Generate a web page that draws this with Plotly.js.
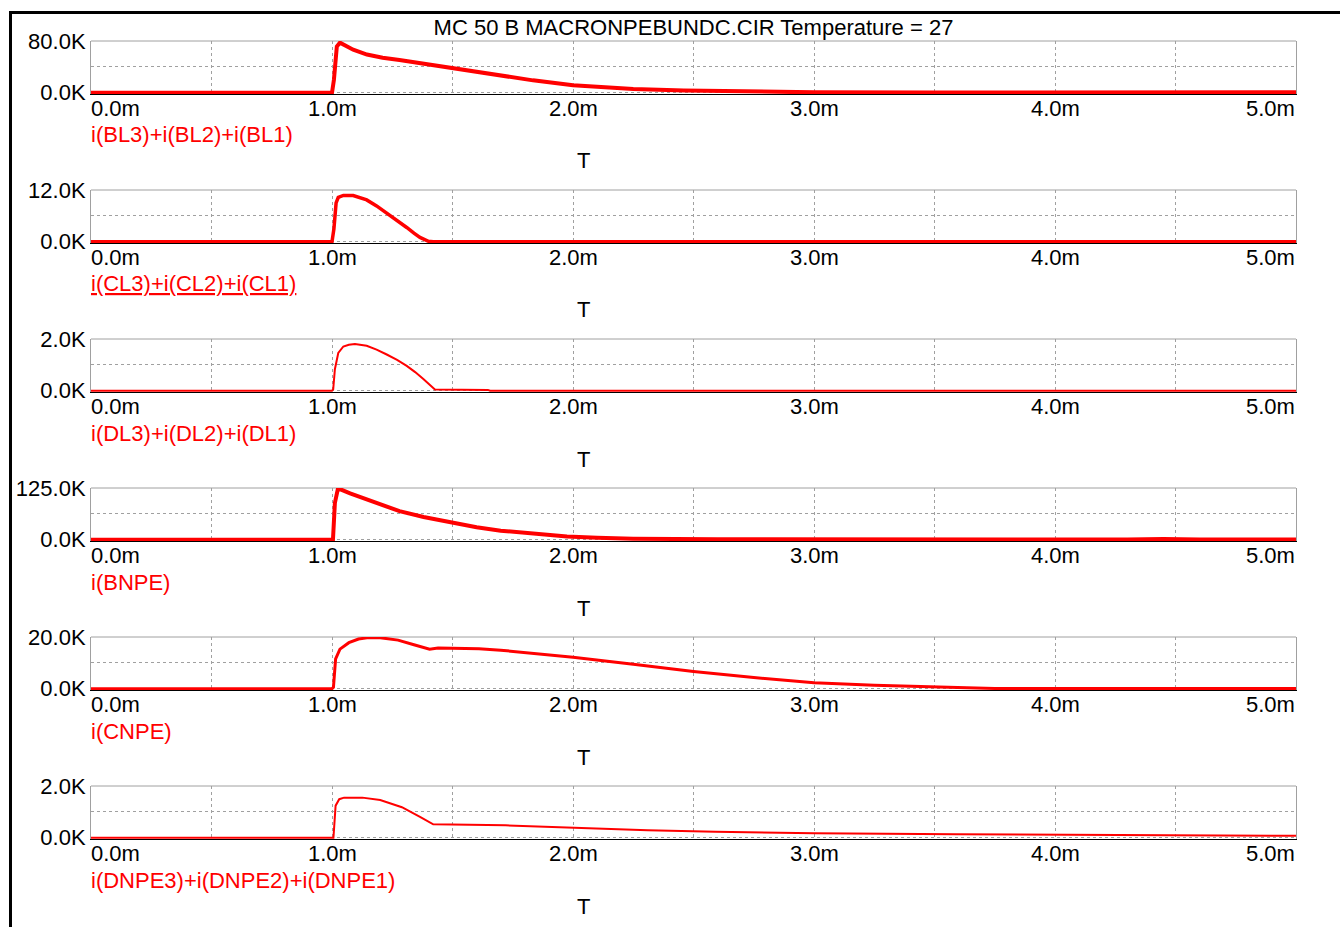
<!DOCTYPE html>
<html><head><meta charset="utf-8">
<script src="https://cdn.plot.ly/plotly-3.0.1.min.js"></script>
<style>
html,body{margin:0;padding:0;background:#fff;overflow:hidden;}
#chart{width:1340px;height:927px;}
#frame{position:absolute;left:9px;top:11px;width:1340px;height:930px;border-left:3px solid #000;border-top:3px solid #000;pointer-events:none;}
</style></head>
<body><div id="chart"></div><div id="frame"></div>
<script>
// ---- data (time in ms, current in K units) ----
const TITLE = 'MC 50 B MACRONPEBUNDC.CIR Temperature = 27';
const NAMES = ['i(BL3)+i(BL2)+i(BL1)', 'i(CL3)+i(CL2)+i(CL1)', 'i(DL3)+i(DL2)+i(DL1)', 'i(BNPE)', 'i(CNPE)', 'i(DNPE3)+i(DNPE2)+i(DNPE1)'];
const UNDERLINED = [false, true, false, false, false, false];
const YMAX = [80, 12, 2, 125, 20, 2];
const YTICK_TOP = ['80.0K', '12.0K', '2.0K', '125.0K', '20.0K', '2.0K'];
const YTICK_ZERO = '0.0K';
const XTITLE = 'T';
const GRID_T = [0, 0.5, 1, 1.5, 2, 2.5, 3, 3.5, 4, 4.5, 5];
const XLABEL_T = [0, 1, 2, 3, 4, 5];
const XLABELS = ['0.0m', '1.0m', '2.0m', '3.0m', '4.0m', '5.0m'];

const T_BL = [0, 1.0, 1.008, 1.02, 1.033, 1.06, 1.088, 1.145, 1.21, 1.28, 1.35, 1.49, 1.6, 1.70, 1.834, 2.0, 2.12, 2.25, 2.46, 2.7, 3.0, 3.5, 4.13, 4.14, 5.0];
const V_BL = [0, 0, 20, 71.5, 77.5, 72, 66.5, 59, 54, 50.5, 46.7, 39.2, 31.7, 26.6, 19.1, 11.7, 8.5, 5.7, 3.5, 1.8, 0.6, 0.2, 0.2, 0.6, 0.6];

const T_CL = [0, 1.0, 1.008, 1.017, 1.026, 1.047, 1.088, 1.144, 1.185, 1.227, 1.27, 1.31, 1.34, 1.365, 1.40, 1.42, 5.0];
const V_CL = [0, 0, 3, 9.0, 10.3, 10.75, 10.7, 9.7, 8.3, 6.7, 5.0, 3.3, 2.0, 1.0, 0.1, 0, 0];

const T_DL = [0, 1.0, 1.005, 1.012, 1.026, 1.047, 1.07, 1.095, 1.144, 1.185, 1.227, 1.27, 1.31, 1.345, 1.379, 1.427, 1.647, 1.656, 5.0];
const V_DL = [0, 0, 0.05, 0.83, 1.46, 1.71, 1.78, 1.81, 1.74, 1.59, 1.40, 1.19, 0.96, 0.72, 0.45, 0.05, 0.03, 0, 0];

const T_BNPE = [0, 1.0, 1.004, 1.012, 1.025, 1.075, 1.145, 1.2, 1.28, 1.38, 1.49, 1.6, 1.70, 1.84, 1.975, 2.1, 2.25, 2.6, 3.0, 4.3, 4.45, 4.6, 5.0];
const V_BNPE = [0, 0, 0, 89, 124.3, 112, 96.7, 85, 69, 55, 41.7, 30, 21.9, 13.5, 7.8, 4.5, 2.4, 1.0, 0.4, 0.4, 1.5, 0.4, 0.2];

const T_CNPE = [0, 1.0, 1.006, 1.015, 1.033, 1.07, 1.11, 1.145, 1.2, 1.274, 1.34, 1.405, 1.44, 1.61, 1.70, 2.0, 2.25, 2.5, 2.75, 3.0, 3.25, 3.5, 3.75, 5.0];
const V_CNPE = [0, 0, 0.5, 11.5, 15.3, 17.8, 19.2, 19.7, 19.7, 18.8, 17.0, 15.3, 15.7, 15.5, 14.9, 12.2, 9.5, 6.7, 4.3, 2.3, 1.3, 0.6, 0.1, 0.1];

const T_DNPE = [0, 1.0, 1.006, 1.015, 1.03, 1.05, 1.126, 1.2, 1.29, 1.367, 1.42, 1.72, 2.02, 2.31, 2.59, 3.0, 3.59, 4.3, 5.0];
const V_DNPE = [0, 0, 0, 1.24, 1.49, 1.55, 1.55, 1.46, 1.18, 0.80, 0.52, 0.48, 0.38, 0.29, 0.23, 0.17, 0.13, 0.1, 0.075];

const SERIES = [[T_BL, V_BL], [T_CL, V_CL], [T_DL, V_DL], [T_BNPE, V_BNPE], [T_CNPE, V_CNPE], [T_DNPE, V_DNPE]];

// ---- styling ----
const FONT = 'Liberation Sans, Arial, sans-serif';
const FS = 22;
const RED = '#ff0000';
const GRAY = '#a0a0a0';
const WIDTHS = [4, 3.5, 2, 4, 3, 2];
const PLOT_H = 798, PANEL_H = 53, STEP = 149;

const traces = [];
const layout = {
  width: 1340, height: 927,
  margin: {l: 91, r: 44, t: 41, b: 88},
  paper_bgcolor: '#fff', plot_bgcolor: '#fff',
  showlegend: false,
  font: {family: FONT, size: FS, color: '#000'},
  title: {text: TITLE, x: 0.5, xref: 'paper', xanchor: 'center', y: 1 - 27/927, yref: 'container', yanchor: 'middle',
          font: {family: FONT, size: FS, color: '#000'}},
  shapes: [], annotations: []
};

for (let i = 0; i < 6; i++) {
  const s = i === 0 ? '' : String(i + 1);
  const xa = 'x' + s, ya = 'y' + s;
  traces.push({x: SERIES[i][0], y: SERIES[i][1], xaxis: xa, yaxis: ya, type: 'scatter', mode: 'lines',
               line: {color: RED, width: WIDTHS[i]}, hoverinfo: 'skip'});
  const top = 1 - (STEP * i) / PLOT_H;
  const bot = Math.max(0, 1 - (STEP * i + PANEL_H) / PLOT_H);
  layout['xaxis' + s] = {
    domain: [0, 1], range: [0, 5], anchor: ya, tickmode: 'array', tickvals: GRID_T, showticklabels: false,
    showgrid: true, gridcolor: GRAY, griddash: '3px,3px', gridwidth: 1, zeroline: false,
    showline: true, linecolor: '#000', linewidth: 1, ticks: '', fixedrange: true
  };
  const m = YMAX[i];
  layout['yaxis' + s] = {
    domain: [bot, top], range: [-0.025 * m, m], anchor: xa, tickmode: 'array', tickvals: [0, m / 2, m],
    ticktext: [YTICK_ZERO, '', YTICK_TOP[i]], showgrid: true, gridcolor: GRAY, griddash: '3px,3px', gridwidth: 1,
    zeroline: false, showline: true, linecolor: GRAY, linewidth: 1, mirror: true, ticks: '',
    tickfont: {family: FONT, size: FS, color: '#000'}, fixedrange: true
  };
  layout.shapes.push({type: 'line', xref: xa + ' domain', yref: ya + ' domain', x0: 0, x1: 1, y0: 1, y1: 1,
                      line: {color: GRAY, width: 1}, layer: 'below'});
  XLABEL_T.forEach((v, k) => {
    const last = k === XLABEL_T.length - 1;
    const anchor = k === 0 ? 'left' : (last ? 'right' : 'center');
    layout.annotations.push({xref: xa, yref: ya + ' domain', x: v, y: 0, text: XLABELS[k], showarrow: false,
      xanchor: anchor, yanchor: 'top', yshift: 0, xshift: k === 0 ? -2 : (last ? 1 : 0),
      font: {family: FONT, size: FS, color: '#000'}});
  });
  const nm = UNDERLINED[i] ? '<u>' + NAMES[i] + '</u>' : NAMES[i];
  layout.annotations.push({xref: xa + ' domain', yref: ya + ' domain', x: 0, y: 0, text: nm, showarrow: false,
    xanchor: 'left', yanchor: 'middle', yshift: -41, xshift: -2, font: {family: FONT, size: FS, color: RED}});
  layout.annotations.push({xref: xa + ' domain', yref: ya + ' domain', x: 0.409, y: 0, text: XTITLE, showarrow: false,
    xanchor: 'center', yanchor: 'middle', yshift: -67, font: {family: FONT, size: FS, color: '#000'}});
}

Plotly.newPlot('chart', traces, layout, {staticPlot: true, displayModeBar: false});
</script></body></html>
